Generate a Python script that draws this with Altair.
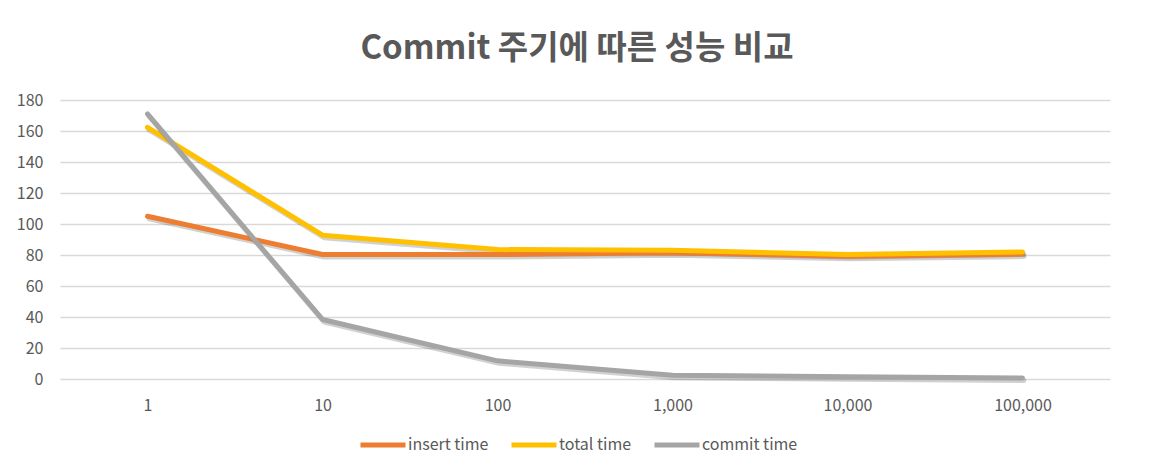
import altair as alt
import pandas as pd

categories = ["1", "10", "100", "1,000", "10,000", "100,000"]
insert_time = [105, 80.3, 80.3, 81.5, 79.2, 80.6]
total_time = [162.3, 92.8, 83.5, 83.0, 80.3, 82.0]
commit_time = [57.0, 12.8, 3.9, 0.8, 0.5, 0.2]

series_names = ["insert time", "total time", "commit time"]
series_colors = ["#ED7D31", "#FFC000", "#A5A5A5"]

left_df = pd.DataFrame({
    "cat": categories * 2,
    "value": insert_time + total_time,
    "series": ["insert time"] * len(categories) + ["total time"] * len(categories),
    "order": [0] * len(categories) + [1] * len(categories),
})
right_df = pd.DataFrame({
    "cat": categories,
    "value": commit_time,
    "series": ["commit time"] * len(categories),
})

FONT = "Noto Sans CJK KR"
LABEL_COLOR = "#595959"

x_enc = alt.X("cat:N", sort=categories, title=None,
              scale=alt.Scale(paddingOuter=0.5, paddingInner=0),
              axis=alt.Axis(labelAngle=0, domain=False, ticks=False, labelPadding=18,
                            labelFontSize=16, labelColor=LABEL_COLOR, labelFont=FONT))
color_enc = alt.Color("series:N",
                      scale=alt.Scale(domain=series_names, range=series_colors),
                      legend=alt.Legend(title=None, orient="none", legendX=298, legendY=320,
                                        direction="horizontal", symbolType="stroke",
                                        symbolStrokeWidth=5, symbolSize=2025,
                                        labelFontSize=16, labelColor=LABEL_COLOR, labelFont=FONT,
                                        labelOffset=0, columnPadding=12))

y_left = alt.Y("value:Q", title=None,
               scale=alt.Scale(domain=[0, 180], nice=False),
               axis=alt.Axis(values=list(range(0, 181, 20)), domain=False, ticks=False,
                             labelPadding=17, gridColor="#D9D9D9", gridWidth=1.3,
                             labelFontSize=16, labelColor=LABEL_COLOR, labelFont=FONT))
y_right = alt.Y("value:Q", title=None,
                scale=alt.Scale(domain=[0, 60], nice=False),
                axis=alt.Axis(orient="right", values=list(range(0, 61, 10)), domain=False, ticks=False,
                              grid=False, labelPadding=9,
                              labelFontSize=16, labelColor=LABEL_COLOR, labelFont=FONT))

line_kw = dict(strokeWidth=5, strokeCap="round", strokeJoin="round")
shadow_kw = dict(strokeWidth=5, strokeCap="round", strokeJoin="round",
                 color="#000000", opacity=0.18, xOffset=1.5, yOffset=2.5)

left_shadow = alt.Chart(left_df).mark_line(**shadow_kw).encode(
    x=x_enc, y=y_left, detail="series:N")
left = alt.Chart(left_df).mark_line(**line_kw).encode(
    x=x_enc, y=y_left, color=color_enc, detail="series:N", order="order:Q")

right_shadow = alt.Chart(right_df).mark_line(**shadow_kw).encode(
    x=x_enc, y=alt.Y("value:Q", scale=alt.Scale(domain=[0, 60], nice=False), axis=None))
right = alt.Chart(right_df).mark_line(**line_kw).encode(
    x=x_enc, y=y_right, color=color_enc)

left_layer = alt.layer(left_shadow, left)
right_layer = alt.layer(right_shadow, right)

chart = alt.layer(left_layer, right_layer).resolve_scale(y="independent").properties(
    width=1050,
    height=279,
    title=alt.TitleParams("Commit 주기에 따른 성능 비교", font=FONT, fontSize=33,
                          fontWeight="bold", color=LABEL_COLOR, anchor="middle", offset=26,
                          dx=-8),
    autosize=alt.AutoSizeParams(type="none"),
    padding={"left": 52, "top": 92, "right": 40, "bottom": 89},
).configure(background="white", view=alt.ViewConfig(stroke=None))

chart.save("out.html", embed_options={"renderer": "svg", "actions": False})
